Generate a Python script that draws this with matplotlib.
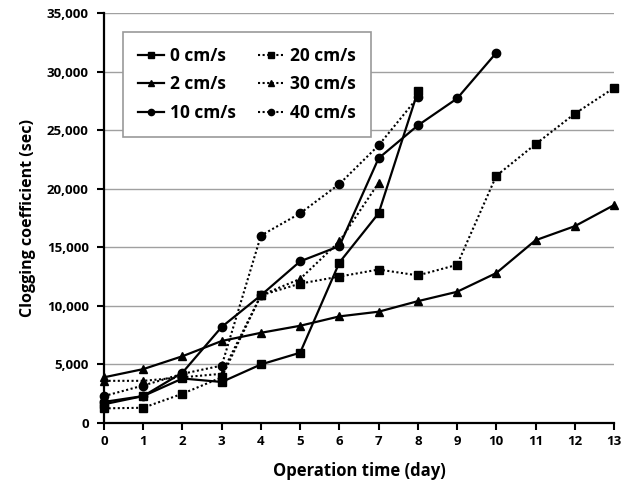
import numpy as np
import matplotlib
matplotlib.use('Agg')
import matplotlib.pyplot as plt
from matplotlib.ticker import FuncFormatter

plt.rcParams['font.family'] = ['Open Sans', 'DejaVu Sans']
plt.rcParams['font.weight'] = 'bold'

# clogging coefficient (sec) per velocity
days_0 = [0, 1, 2, 3, 4, 5, 6, 7, 8]
v0 = [1600, 2300, 3800, 3500, 5000, 6000, 13700, 17900, 28300]

days_2 = list(range(14))
v2 = [3900, 4600, 5700, 7000, 7700, 8300, 9100, 9500, 10400, 11200, 12800, 15600, 16800, 18600]

days_10 = list(range(11))
v10 = [1800, 2300, 4300, 8200, 10900, 13800, 15100, 22600, 25400, 27700, 31600]

days_20 = list(range(14))
v20 = [1250, 1300, 2500, 3900, 10900, 11900, 12500, 13100, 12600, 13500, 21100, 23800, 26400, 28600]

days_30 = [0, 1, 2, 3, 4, 5, 6, 7]
v30 = [3600, 3600, 3900, 4200, 10900, 12300, 15500, 20500]

days_40 = [0, 1, 2, 3, 4, 5, 6, 7, 8]
v40 = [2300, 3200, 4200, 4900, 16000, 17900, 20400, 23700, 27800]

labels = ['0 cm/s', '2 cm/s', '10 cm/s', '20 cm/s', '30 cm/s', '40 cm/s']

fig = plt.figure(figsize=(6.21, 4.88), dpi=100)
ax = fig.add_axes([0.1675, 0.1332, 0.8212, 0.8402])

kw_solid = dict(color='black', lw=1.6, ms=6, clip_on=False)
kw_dot = dict(color='black', lw=1.5, ms=6, ls=(0, (1, 1.2)), clip_on=False)

h0, = ax.plot(days_0, v0, marker='s', **kw_solid)
h2, = ax.plot(days_2, v2, marker='^', **kw_solid)
h10, = ax.plot(days_10, v10, marker='o', **kw_solid)
h20, = ax.plot(days_20, v20, marker='s', **kw_dot)
h30, = ax.plot(days_30, v30, marker='^', **kw_dot)
h40, = ax.plot(days_40, v40, marker='o', **kw_dot)

ax.set_xlim(0, 13)
ax.set_ylim(0, 35000)
ax.set_xticks(range(14))
ax.set_yticks(range(0, 35001, 5000))
ax.yaxis.set_major_formatter(FuncFormatter(lambda v, p: f'{int(v):,}'))
ax.grid(axis='y', color='#a0a0a0', lw=1)
ax.set_axisbelow(True)

for s in ['top', 'right']:
    ax.spines[s].set_visible(False)
for s in ['left', 'bottom']:
    ax.spines[s].set_linewidth(1.6)
ax.tick_params(axis='both', direction='out', length=5, width=1.5, labelsize=9.5)
ax.tick_params(axis='y', pad=6)
for t in ax.get_xticklabels() + ax.get_yticklabels():
    t.set_fontweight('bold')

ax.set_xlabel('Operation time (day)', fontsize=12, fontweight='bold', labelpad=10)
ax.set_ylabel('Clogging coefficient (sec)', fontsize=11.5, fontweight='bold', labelpad=8)

leg = ax.legend([h0, h2, h10, h20, h30, h40], labels, ncol=2,
                loc='upper left', bbox_to_anchor=(0.037, 0.954),
                fancybox=False, framealpha=1, edgecolor='#999999',
                prop={'size': 12.5, 'weight': 'bold'}, handlelength=1.5,
                handletextpad=0.35, columnspacing=1.3, borderpad=0.85,
                labelspacing=0.62, borderaxespad=0, markerscale=0.75)
leg.get_frame().set_linewidth(1.2)

fig.savefig('out.png', dpi=100)
